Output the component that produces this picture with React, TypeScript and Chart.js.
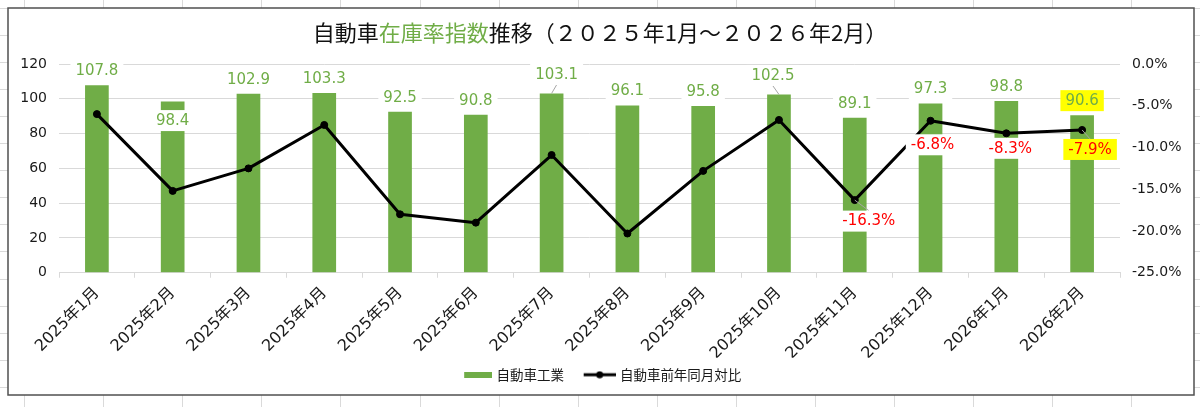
import { useEffect, useRef } from 'react';
import { Chart, registerables, ChartConfiguration, Plugin } from 'chart.js';

Chart.register(...registerables);

// data
const months = [
  '2025年1月', '2025年2月', '2025年3月', '2025年4月', '2025年5月', '2025年6月', '2025年7月',
  '2025年8月', '2025年9月', '2025年10月', '2025年11月', '2025年12月', '2026年1月', '2026年2月',
];
const inventoryIndex = [107.8, 98.4, 102.9, 103.3, 92.5, 90.8, 103.1, 96.1, 95.8, 102.5, 89.1, 97.3, 98.8, 90.6];
const yoyChange = [-6.0, -15.2, -12.5, -7.3, -18.0, -19.0, -10.9, -20.3, -12.8, -6.7, -16.3, -6.8, -8.3, -7.9];
const seriesNames = ['自動車工業', '自動車前年同月対比'];
const titleParts = ['自動車', '在庫率指数', '推移（２０２５年1月～２０２６年2月）'];

const GREEN = '#70AD47';
const NUM_FONT = '"DejaVu Sans", "Noto Sans CJK JP", sans-serif';
const JP_FONT = '"Noto Sans CJK JP", sans-serif';

// label placement (offset of label centre from the bar top / point)
const barLabelShift: Record<number, [number, number]> = { 1: [0, 19], 6: [5, -19], 9: [-6, -19] };
const barLeader = [6, 9];
const pctLabelShift: Record<number, [number, number]> = { 10: [14, 21], 11: [2, 24], 12: [4, 15], 13: [8, 19.5] };
const pctLeader = [10, 13];
const highlighted = 13;

function drawBoxLabel(ctx: CanvasRenderingContext2D, text: string, x: number, y: number, color: string, fill: string) {
  const w = ctx.measureText(text).width;
  ctx.fillStyle = fill;
  ctx.fillRect(x - w / 2 - 5, y - 10.5, w + 10, 21);
  ctx.fillStyle = color;
  ctx.fillText(text, x, y + 0.5);
}

const sheetPlugin: Plugin = {
  id: 'sheet',
  beforeDraw(chart) {
    const { ctx, width, height } = chart;
    ctx.save();
    ctx.fillStyle = '#fff';
    ctx.fillRect(0, 0, width, height);
    ctx.strokeStyle = '#dadada';
    ctx.lineWidth = 1;
    ctx.beginPath();
    for (let x = 24; x < width; x += 79.1) {
      ctx.moveTo(Math.round(x) + 0.5, 0);
      ctx.lineTo(Math.round(x) + 0.5, height);
    }
    for (let y = 7.5; y < height; y += 27.1) {
      ctx.moveTo(0, Math.round(y) + 0.5);
      ctx.lineTo(width, Math.round(y) + 0.5);
    }
    ctx.stroke();
    ctx.fillStyle = '#fff';
    ctx.fillRect(8, 8, 1186, 387);
    ctx.strokeStyle = '#505050';
    ctx.lineWidth = 1.5;
    ctx.strokeRect(8, 8, 1186, 387);
    ctx.restore();
  },
};

const titlePlugin: Plugin = {
  id: 'mixedTitle',
  afterDraw(chart) {
    const { ctx } = chart;
    const colors = ['#111', GREEN, '#111'];
    ctx.save();
    ctx.font = `22px ${JP_FONT}`;
    ctx.textBaseline = 'middle';
    ctx.textAlign = 'left';
    const widths = titleParts.map(p => ctx.measureText(p).width);
    let x = 600 - widths.reduce((a, b) => a + b, 0) / 2;
    titleParts.forEach((p, i) => {
      ctx.fillStyle = colors[i];
      ctx.fillText(p, x, 33);
      x += widths[i];
    });
    ctx.restore();
  },
};

const labelPlugin: Plugin = {
  id: 'valueLabels',
  afterDatasetsDraw(chart) {
    const { ctx } = chart;
    ctx.save();
    ctx.font = `15px ${NUM_FONT}`;
    ctx.textAlign = 'center';
    ctx.textBaseline = 'middle';
    ctx.strokeStyle = '#a6a6a6';
    ctx.lineWidth = 1;

    chart.getDatasetMeta(0).data.forEach((bar, i) => {
      const { x, y } = bar.getProps(['x', 'y'], true);
      const [dx, dy] = barLabelShift[i] ?? [0, -14.5];
      const lx = x + dx;
      const ly = y + dy;
      if (barLeader.includes(i)) {
        ctx.beginPath();
        ctx.moveTo(x, y);
        ctx.lineTo(lx, ly + 10.5);
        ctx.stroke();
      }
      drawBoxLabel(ctx, inventoryIndex[i].toFixed(1), lx, ly, GREEN, i === highlighted ? '#FFFF00' : '#fff');
    });

    chart.getDatasetMeta(1).data.forEach((pt, i) => {
      const shift = pctLabelShift[i];
      if (!shift) return;
      const { x, y } = pt.getProps(['x', 'y'], true);
      const lx = x + shift[0];
      const ly = y + shift[1];
      if (pctLeader.includes(i)) {
        ctx.beginPath();
        ctx.moveTo(x, y);
        ctx.lineTo(lx, ly - 10.5);
        ctx.stroke();
      }
      drawBoxLabel(ctx, `${yoyChange[i].toFixed(1)}%`, lx, ly, '#FF0000', i === highlighted ? '#FFFF00' : '#fff');
    });
    ctx.restore();
  },
};

// legend swatches: content sits at the right end of a 44px wide image
function legendImages() {
  const bar = document.createElement('canvas');
  bar.width = 44;
  bar.height = 6;
  const b = bar.getContext('2d')!;
  b.fillStyle = GREEN;
  b.fillRect(16, 0, 28, 6);

  const line = document.createElement('canvas');
  line.width = 44;
  line.height = 8;
  const l = line.getContext('2d')!;
  l.fillStyle = '#000';
  l.fillRect(12, 2.5, 32, 3);
  l.beginPath();
  l.arc(28, 4, 3.5, 0, Math.PI * 2);
  l.fill();
  return [bar, line];
}

export default function App() {
  const canvasRef = useRef<HTMLCanvasElement>(null);

  useEffect(() => {
    const ctx = canvasRef.current?.getContext('2d');
    if (!ctx) return;
    const images = legendImages();

    const config: ChartConfiguration = {
      type: 'bar',
      data: {
        labels: months,
        datasets: [
          {
            type: 'bar',
            label: seriesNames[0],
            data: inventoryIndex,
            backgroundColor: GREEN,
            categoryPercentage: 0.3125,
            barPercentage: 1,
            yAxisID: 'y',
            order: 1,
          },
          {
            type: 'line',
            label: seriesNames[1],
            data: yoyChange,
            borderColor: '#000',
            borderWidth: 3,
            pointRadius: 3.5,
            pointBackgroundColor: '#000',
            pointBorderColor: '#000',
            pointBorderWidth: 1,
            borderJoinStyle: 'round',
            yAxisID: 'y1',
            order: 0,
          },
        ],
      },
      options: {
        responsive: false,
        animation: false,
        layout: { padding: { top: 64, bottom: 15.5, left: 0, right: 8 } },
        plugins: {
          tooltip: { enabled: false },
          legend: {
            position: 'bottom',
            labels: {
              usePointStyle: true,
              pointStyleWidth: 39,
              padding: 10.25,
              color: '#1a1a1a',
              font: { family: JP_FONT, size: 13.5 },
              generateLabels: (chart: Chart) =>
                Chart.defaults.plugins.legend.labels
                  .generateLabels(chart)
                  .sort((a, b) => (a.datasetIndex ?? 0) - (b.datasetIndex ?? 0))
                  .map(item => ({ ...item, pointStyle: images[item.datasetIndex ?? 0] as any })),
            },
          },
        },
        scales: {
          x: {
            offset: true,
            grid: { offset: true, drawOnChartArea: false, drawTicks: true, tickLength: 5, color: '#d9d9d9' },
            border: { display: true, color: '#d9d9d9' },
            ticks: {
              autoSkip: false,
              minRotation: 45,
              maxRotation: 45,
              padding: 6,
              color: '#1a1a1a',
              font: { family: NUM_FONT, size: 16 },
            },
            afterFit: scale => {
              scale.height = 85;
            },
          },
          y: {
            position: 'left',
            min: 0,
            max: 120,
            ticks: { stepSize: 20, padding: 12, color: '#1a1a1a', font: { family: NUM_FONT, size: 14 } },
            grid: { color: '#d9d9d9', drawTicks: false },
            border: { display: false },
            afterFit: scale => {
              scale.width = 59;
            },
          },
          y1: {
            position: 'right',
            min: -25,
            max: 0,
            ticks: {
              stepSize: 5,
              padding: 12,
              color: '#1a1a1a',
              font: { family: NUM_FONT, size: 14 },
              callback: v => `${Number(v).toFixed(1)}%`,
            },
            grid: { drawOnChartArea: false, drawTicks: false },
            border: { display: false },
            afterFit: scale => {
              scale.width = 72;
            },
          },
        },
      },
      plugins: [sheetPlugin, labelPlugin, titlePlugin],
    };

    const chart = new Chart(ctx, config);
    return () => chart.destroy();
  }, []);

  return (
    <div style={{ position: 'fixed', left: 0, top: 0, width: 1200, height: 407, background: '#fff' }}>
      <canvas ref={canvasRef} width={1200} height={407} style={{ display: 'block' }} />
    </div>
  );
}
